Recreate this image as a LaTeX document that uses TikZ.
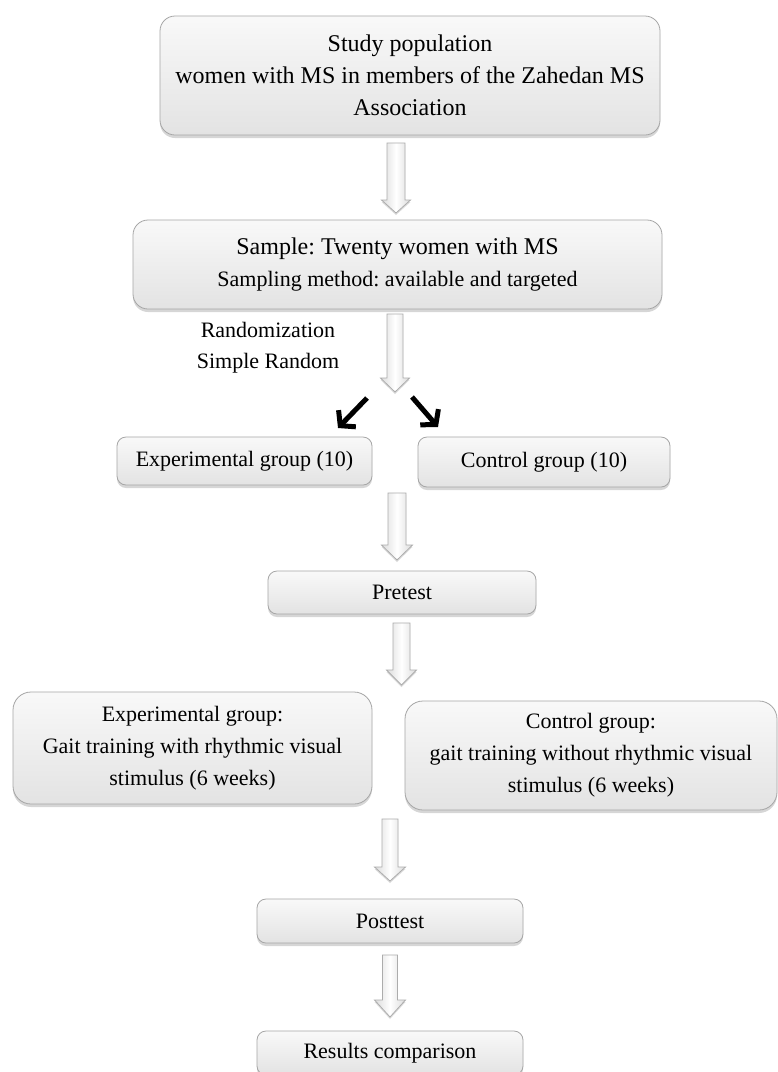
\documentclass[tikz,border=0pt]{standalone}
\usepackage{fontspec}
\setmainfont{Liberation Serif}
\usetikzlibrary{shadows,arrows.meta}
\frenchspacing
\tikzset{
  box/.style={draw=gray!70, line width=0.8pt, rounded corners=#1,
    top color=gray!5, bottom color=gray!22,
    drop shadow={shadow xshift=0pt, shadow yshift=-3pt, opacity=0.35, fill=gray!90},
    align=center, inner sep=0pt, font=\fontsize{22}{32}\selectfont},
  box/.default=10pt,
  barrow/.style={draw=gray!65, line width=0.8pt,
    left color=gray!28, right color=gray!28, middle color=white,
    drop shadow={shadow xshift=0pt, shadow yshift=-2pt, opacity=0.3, fill=gray!90}},
  blk/.style={line width=5pt, -{Straight Barb[length=10pt,width=24pt]}},
  lbl/.style={font=\fontsize{22}{32}\selectfont, inner sep=0pt}
}
% #1 name, #2 xc, #3 shaft half width, #4 head half width, #5 top, #6 head start, #7 tip
\newcommand{\blockarrow}[7]{%
  \coordinate (#1) at (#2,#5);
  \path[barrow] ({#2-#3},#5) -- ({#2+#3},#5) -- ({#2+#3},#6) -- ({#2+#4},#6)
    -- (#2,#7) -- ({#2-#4},#6) -- ({#2-#3},#6) -- cycle;}
\begin{document}
\begin{tikzpicture}[x=1pt,y=-1pt]
\useasboundingbox (0,0) rectangle (778,1072);
\fill[white] (0,0) rectangle (778,1072);

\node[box=15pt, minimum width=500pt, minimum height=119pt, font=\fontsize{24}{32}\selectfont] (b1) at (410,75.5)
  {Study population\\women with MS in members of the Zahedan MS\\Association};
\blockarrow{a1}{396}{9}{14.5}{143}{200}{213}

\node[box=15pt, minimum width=529pt, minimum height=89pt] (b2) at (397.5,264.5)
  {\fontsize{24}{33}\selectfont Sample: Twenty women with MS\\
   \fontsize{22}{33}\selectfont Sampling method: available and targeted};

\node[lbl] (rand) at (268,330) {Randomization};
\node[lbl] (simp) at (268,363) {Simple Random};
\blockarrow{a2}{395}{8}{14.5}{314}{378}{392}

\coordinate (l1) at (367,398); \coordinate (l2) at (338,428);
\coordinate (r1) at (412,397); \coordinate (r2) at (438,427);
\draw[blk] (l1) -- (l2);
\draw[blk] (r1) -- (r2);

\node[box=9pt, minimum width=255pt, minimum height=48pt] (exp) at (244.5,461)
  {Experimental group (10)};
\node[box=9pt, minimum width=252pt, minimum height=50pt] (ctl) at (544,462)
  {Control group (10)};

\blockarrow{a3}{397}{9}{15.5}{493}{545}{560}

\node[box=9pt, minimum width=268pt, minimum height=43pt] (pre) at (402,592.5)
  {Pretest};

\blockarrow{a4}{401.5}{8.5}{15}{623}{670}{685}

\node[box=18pt, minimum width=359pt, minimum height=112pt] (expt) at (192.5,748)
  {Experimental group:\\Gait training with rhythmic visual\\stimulus (6 weeks)};
\node[box=18pt, minimum width=372pt, minimum height=109pt] (ctlt) at (591,755.5)
  {Control group:\\gait training without rhythmic visual\\stimulus (6 weeks)};

\blockarrow{a5}{390}{8}{15.5}{819}{867}{881}

\node[box=9pt, minimum width=266pt, minimum height=44pt] (post) at (390,921)
  {Posttest};

\blockarrow{a6}{390}{7.5}{15.5}{955}{1000}{1017}

\node[box=9pt, minimum width=266pt, minimum height=44pt] (res) at (390,1053)
  {Results comparison};
\end{tikzpicture}
\end{document}
